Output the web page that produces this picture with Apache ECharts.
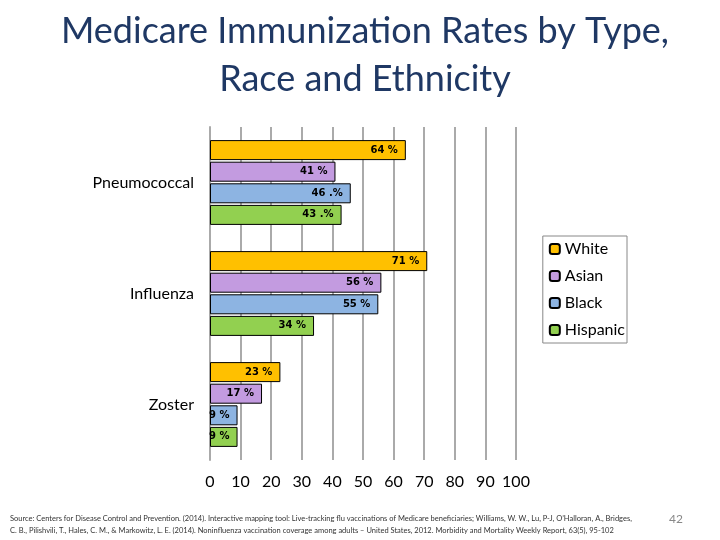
<!DOCTYPE html>
<html><head><meta charset="utf-8">
<script src="https://cdn.jsdelivr.net/npm/echarts@6/dist/echarts.min.js"></script>
<style>body{margin:0;background:#fff}#c{width:720px;height:540px}</style>
</head><body><div id="c"></div>
<script>
const categories = ['Pneumococcal', 'Influenza', 'Zoster'];
const seriesNames = ['White', 'Asian', 'Black', 'Hispanic'];
const white = [64, 71, 23];
const asian = [41, 56, 17];
const black = [46, 55, 9];
const hispanic = [43, 34, 9];
const labelTexts = [
  ['64 %', '71 %', '23 %'],
  ['41 %', '56 %', '17 %'],
  ['46 .%', '55 %', '9 %'],
  ['43 .%', '34 %', '9 %']
];
const xTicks = [0, 10, 20, 30, 40, 50, 60, 70, 80, 90, 100];
const colors = ['#FFC000', '#C39BE0', '#8DB4E2', '#92D050'];
const values = [white, asian, black, hispanic];

const chart = echarts.init(document.getElementById('c'));
chart.setOption({
  animation: false,
  title: [{
    text: 'Medicare Immunization Rates by Type,\nRace and Ethnicity',
    left: 360, top: 2, textAlign: 'center',
    textStyle: {fontFamily: 'Lato', fontSize: 36, fontWeight: 'normal', color: '#1F3864', lineHeight: 48}
  }, {
    text: 'Source: Centers for Disease Control and Prevention. (2014). Interactive mapping tool: Live-tracking flu vaccinations of Medicare beneficiaries; Williams, W. W., Lu, P-J, O’Halloran, A., Bridges,\nC. B., Pilishvili, T., Hales, C. M., & Markowitz, L. E. (2014). Noninfluenza vaccination coverage among adults – United States, 2012. Morbidity and Mortality Weekly Report, 63(5), 95-102',
    left: 5, top: 508,
    textStyle: {fontFamily: 'Lato', fontSize: 7.5, fontWeight: 'normal', color: '#333', lineHeight: 12}
  }, {
    text: '42', left: 664, top: 508,
    textStyle: {fontFamily: 'Lato', fontSize: 12, fontWeight: 'normal', color: '#888'}
  }],
  legend: {
    orient: 'vertical', right: 93, top: 236,
    data: seriesNames, itemWidth: 10, itemHeight: 10, itemGap: 11,
    borderColor: '#888', borderWidth: 1, padding: [5, 2, 5, 6],
    textStyle: {fontFamily: 'Lato', fontSize: 16, color: '#000'}
  },
  grid: {left: 210, right: 204, top: 127, bottom: 80},
  xAxis: {
    type: 'value', min: 0, max: 100, interval: 10,
    axisLine: {show: false}, axisTick: {show: false},
    splitLine: {lineStyle: {color: '#aaa', width: 2}},
    axisLabel: {fontFamily: 'Lato', fontSize: 16, color: '#000', margin: 14,
      formatter: v => xTicks.includes(v) ? String(v) : ''}
  },
  yAxis: {
    type: 'category', data: categories, inverse: true,
    axisLine: {lineStyle: {color: '#aaa', width: 2}},
    axisTick: {length: 6, lineStyle: {color: '#999'}},
    axisLabel: {fontFamily: 'Lato', fontSize: 16, color: '#000', margin: 16}
  },
  series: seriesNames.map((n, i) => ({
    name: n, type: 'bar', data: values[i],
    barWidth: 20, barGap: '8%', barCategoryGap: '10%',
    itemStyle: {color: colors[i], borderColor: '#000', borderWidth: 1},
    label: {show: true, position: 'insideRight', distance: 8,
      fontFamily: 'DejaVu Sans', fontSize: 10, fontWeight: 'bold', color: '#000',
      formatter: p => labelTexts[i][p.dataIndex]}
  }))
});
</script></body></html>
